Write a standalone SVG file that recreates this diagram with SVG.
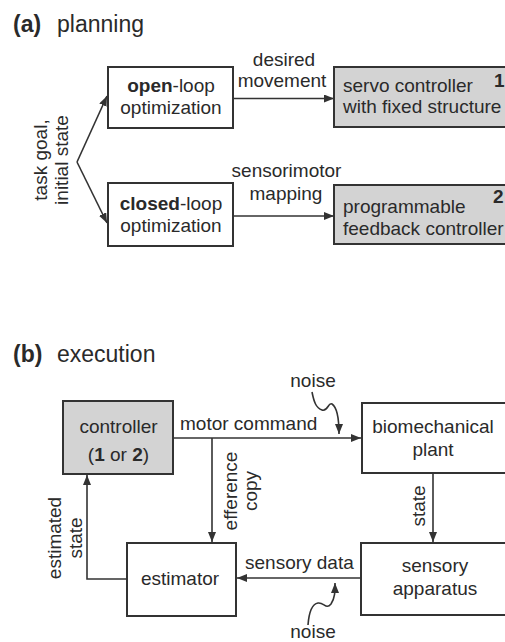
<svg xmlns="http://www.w3.org/2000/svg" width="505" height="642" viewBox="0 0 505 642">
<style>
text{font-family:"Liberation Sans",Arial,sans-serif;font-size:19px;fill:#2a2a2a}
.t{font-size:23px}
.m{text-anchor:middle}
.b{font-weight:bold}
.box{fill:#fff;stroke:#333;stroke-width:2}
.gray{fill:#d3d3d3;stroke:#333;stroke-width:2}
.ln{fill:none;stroke:#333;stroke-width:1.6}
</style>
<defs>
<marker id="ah" markerUnits="userSpaceOnUse" markerWidth="10" markerHeight="8" refX="10" refY="4" orient="auto">
<path d="M0,0 L10,4 L0,8 Z" fill="#333"/>
</marker>
</defs>
<rect width="505" height="642" fill="#fff"/>

<g id="title-a">
<text x="13" y="32" class="t b">(a)</text>
<text x="57" y="32" class="t">planning</text>
</g>
<g id="title-b">
<text x="13" y="362" class="t b">(b)</text>
<text x="57" y="362" class="t">execution</text>
</g>

<g id="task-goal">
<text transform="translate(47,160) rotate(-90)" class="m">task goal,</text>
<text transform="translate(68,160) rotate(-90)" class="m">initial state</text>
</g>

<g id="open-loop">
<rect x="108" y="67" width="125" height="61" class="box"/>
<text x="171" y="92" class="m"><tspan class="b">open</tspan>-loop</text>
<text x="171" y="114" class="m">optimization</text>
</g>

<g id="servo">
<rect x="334" y="67" width="200" height="60" class="gray"/>
<text x="343" y="92">servo controller</text>
<text x="343" y="113">with fixed structure</text>
<text x="494" y="87" class="b">1</text>
</g>

<g id="closed-loop">
<rect x="108" y="183" width="125" height="63" class="box"/>
<text x="171" y="210" class="m"><tspan class="b">closed</tspan>-loop</text>
<text x="171" y="232" class="m">optimization</text>
</g>

<g id="programmable">
<rect x="334" y="185" width="200" height="59" class="gray"/>
<text x="343" y="213">programmable</text>
<text x="343" y="235">feedback controller</text>
<text x="493" y="203" class="b">2</text>
</g>

<g id="controller">
<rect x="63" y="401" width="110" height="73" class="gray"/>
<text x="118.5" y="433" class="m">controller</text>
<text x="118.5" y="461" class="m">(<tspan class="b">1</tspan> or <tspan class="b">2</tspan>)</text>
</g>

<g id="plant">
<rect x="362" y="403" width="180" height="70" class="box"/>
<text x="433" y="433" class="m">biomechanical</text>
<text x="433" y="456" class="m">plant</text>
</g>

<g id="sensory">
<rect x="361" y="543" width="180" height="72" class="box"/>
<text x="435" y="572" class="m">sensory</text>
<text x="435" y="595" class="m">apparatus</text>
</g>

<g id="estimator">
<rect x="127" y="543" width="109" height="73" class="box"/>
<text x="180" y="585" class="m">estimator</text>
</g>

<g id="connectors">
<path d="M77,162 L107,96" class="ln" marker-end="url(#ah)"/>
<path d="M77,162 L107,223" class="ln" marker-end="url(#ah)"/>
<path d="M233,98.5 L334,98.5" class="ln" marker-end="url(#ah)"/>
<path d="M233,216 L334,216" class="ln" marker-end="url(#ah)"/>
<path d="M173,438 L361,438" class="ln" marker-end="url(#ah)"/>
<path d="M212,438 L212,542" class="ln" marker-end="url(#ah)"/>
<path d="M433,473 L433,542" class="ln" marker-end="url(#ah)"/>
<path d="M361,578 L237,578" class="ln" marker-end="url(#ah)"/>
<path d="M127,579 L87,579 L87,475" class="ln" marker-end="url(#ah)"/>
<path d="M312,392 C314,402 316,408 322,410 C328,412 328,402 332,404 C338,408 339,420 339,434" class="ln" marker-end="url(#ah)"/>
<path d="M308,625 C309,612 312,604 318,603 C324,602 326,610 331,604 C335,598 335,592 335,583" class="ln" marker-end="url(#ah)"/>
</g>

<g id="labels">
<text x="284" y="66" class="m">desired</text>
<text x="282" y="87" class="m">movement</text>
<text x="286.5" y="177" class="m">sensorimotor</text>
<text x="286" y="200" class="m">mapping</text>
<text x="313" y="387" class="m">noise</text>
<text x="180" y="430">motor command</text>
<text transform="translate(237,491) rotate(-90)" class="m">efference</text>
<text transform="translate(257,491) rotate(-90)" class="m">copy</text>
<text transform="translate(425,506) rotate(-90)" class="m">state</text>
<text transform="translate(61,538) rotate(-90)" class="m">estimated</text>
<text transform="translate(82,538) rotate(-90)" class="m">state</text>
<text x="245" y="569">sensory data</text>
<text x="313" y="638" class="m">noise</text>
</g>
</svg>
